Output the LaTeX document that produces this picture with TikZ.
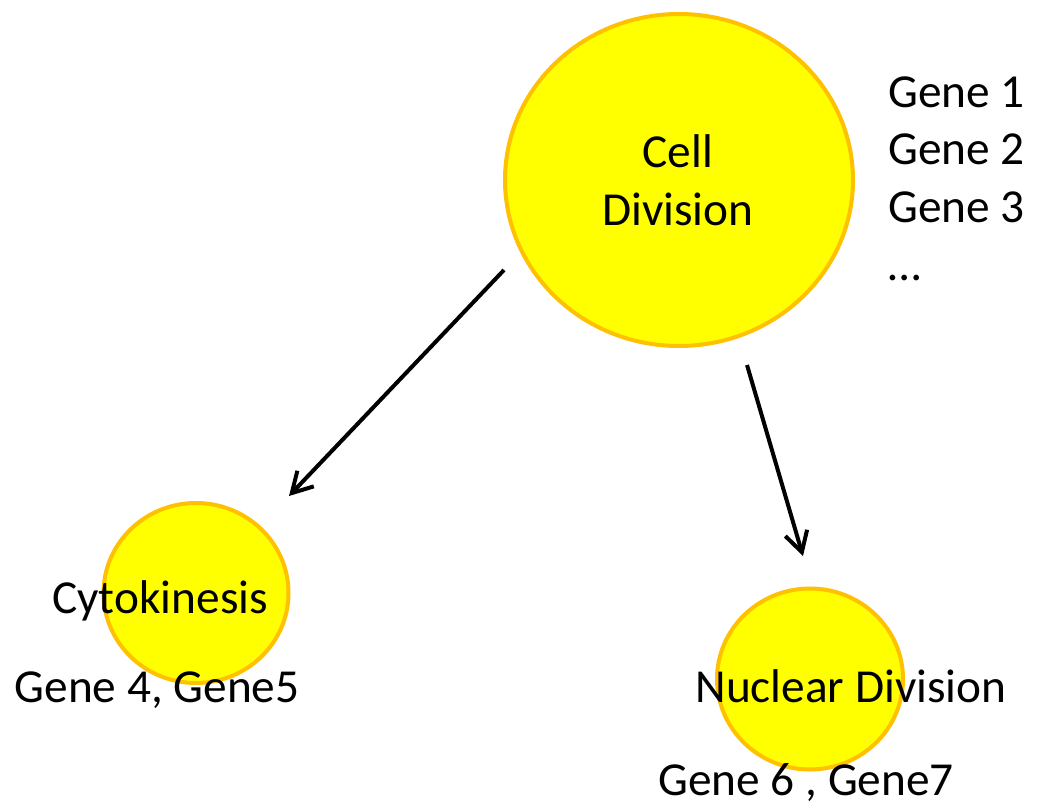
\documentclass[tikz,border=0pt]{standalone}
\usepackage{fontspec}
\setmainfont{Carlito}
\usetikzlibrary{shapes.geometric,arrows.meta}
\definecolor{cellfill}{HTML}{FFFF00}
\definecolor{cellborder}{HTML}{FFC000}
\begin{document}
\begin{tikzpicture}[x=0.75pt,y=-0.75pt,
  cellnode/.style={ellipse,draw=cellborder,fill=cellfill,line width=3pt,inner sep=0pt},
  lbl/.style={inner sep=0pt,font=\fontsize{35.5}{43.2}\selectfont,text=black},
  link/.style={line width=3pt,-{Straight Barb[length=15pt,width=17pt,line width=3pt]}}]
\useasboundingbox (0,0) rectangle (1040,803);
\node[cellnode,minimum width=261pt,minimum height=249pt] (cd) at (679,180) {};
\node[cellnode,minimum width=138.75pt,minimum height=135pt] (cy) at (196,593) {};
\node[cellnode,minimum width=139.5pt,minimum height=135.75pt] (nd) at (810,679) {};
\node[lbl,anchor=base,align=center] (cdt) at (678,225) {Cell\\Division};
\node[lbl,anchor=base west,align=left] (genes) at (888,280) {Gene 1\\Gene 2\\Gene 3\\…};
\node[lbl,anchor=base] (cyt) at (160,613) {Cytokinesis};
\node[lbl,anchor=base] (cyg) at (157,702) {Gene 4, Gene5};
\node[lbl,anchor=base] (ndt) at (851,702) {Nuclear Division};
\node[lbl,anchor=base] (ndg) at (806,795) {Gene 6 , Gene7};
\coordinate (a1s) at (504,270);
\coordinate (a1e) at (289,496);
\coordinate (a2s) at (747,365);
\coordinate (a2e) at (803,556);
\draw[link] (a1s) -- (a1e);
\draw[link] (a2s) -- (a2e);
\end{tikzpicture}
\end{document}
